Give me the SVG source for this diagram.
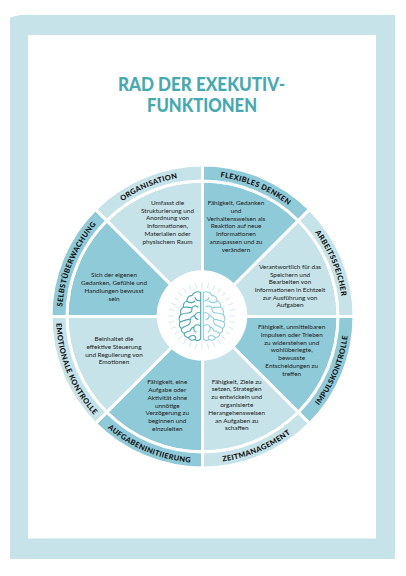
<svg xmlns="http://www.w3.org/2000/svg" width="406" height="576" viewBox="0 0 406 576">
<style>
.d{fill:#8fcad8;stroke:#fff;stroke-width:3}
.l{fill:#c5e3e9;stroke:#fff;stroke-width:3}
.t{font-family:"Lato","Liberation Sans",sans-serif;font-size:6.4px;fill:#1a1a1a;text-anchor:middle}
.a{font-family:"Lato","Liberation Sans",sans-serif;font-size:7.4px;font-weight:900;fill:#111;text-anchor:middle;letter-spacing:.35px}
.h{font-family:"Lato","Liberation Sans",sans-serif;font-size:18.5px;font-weight:900;fill:#45aab0;text-anchor:middle}
.b{fill:none;stroke-width:1.1;stroke-linecap:round;stroke-linejoin:round}
.r{stroke:#c5e3e9;stroke-width:.8;stroke-linecap:round}
</style>
<defs>
<path id="p1" d="M62,316.5A140.5,140.5 0 0 1 103.15,217.15"/>
<path id="p2" d="M103.15,217.15A140.5,140.5 0 0 1 202.5,176"/>
<path id="p3" d="M202.5,176A140.5,140.5 0 0 1 301.85,217.15"/>
<path id="p4" d="M301.85,217.15A140.5,140.5 0 0 1 343,316.5"/>
<path id="p5" d="M56,316.5A146.5,146.5 0 0 0 98.91,420.09"/>
<path id="p6" d="M98.91,420.09A146.5,146.5 0 0 0 202.5,463"/>
<path id="p7" d="M202.5,463A146.5,146.5 0 0 0 306.09,420.09"/>
<path id="p8" d="M306.09,420.09A146.5,146.5 0 0 0 349,316.5"/>
<g id="hemi">
<path d="M1.3,-23.5V23C3,24.5 5.5,24.800 7.500,23.500C10,25 12.500,24 13.500,21.500C16,21.500 18,19.800 17.800,17.300C20,16.500 21,14.500 20.500,12.500C22.800,11 23.300,8 21.800,6C23.300,3.500 23,0.500 21,-1.500C22.300,-4.500 21,-7.800 18.500,-8.800C19.300,-11.800 17.500,-14.500 15,-14.800C15.500,-18 13,-20.800 10,-20.300C9,-23.500 5,-25.300 1.3,-23.500Z"/>
<path d="M1.500,-15C4,-15 6,-16 7,-18.500M7,-15C9,-13 12,-13 15,-14.800M4,-9C7,-11 9,-10 10,-8C12,-9 15,-9 18.500,-8.800M10,-8C9.500,-5 11,-3 14,-3C16,-3 19,-2.500 21,-1.500M1.500,-3C4,-4 6,-3 7,-1C7.500,1.500 6,3 4,3.500M7,-1C9,0 11,1 12,3.500C14,3 17,4 21.800,6M12,3.500C11,6 12,8.500 15,9.500C16.500,10 18.500,11 20.500,12.500M1.500,10C4,8 7,8.500 8,11C8.500,13 8,15 6,16M8,11C10,11.500 11.500,13 12,15C13.500,15 15.500,16 17.800,17.300M6.500,23.500C5.500,21 7,19.500 9,19.500C11,19.500 12.500,20.500 13.500,21.500"/>
</g>
</defs>
<rect id="frame" x="10" y="15" width="385" height="544" fill="#c5e3e9"/>
<rect x="28" y="35" width="348" height="503.500" fill="#fff"/>
<path d="M9,18.500C12,16.500 15,16 19,15.500L18,14H9Z" fill="#fff"/>
<g id="title">
<text class="h" x="201.500" y="90.500" textLength="167" lengthAdjust="spacingAndGlyphs">RAD DER EXEKUTIV-</text>
<text class="h" x="202" y="111.500" textLength="110" lengthAdjust="spacingAndGlyphs">FUNKTIONEN</text>
</g>
<g id="organisation">
<path class="l" d="M202.500,316.500L106.690,220.690A135.500,135.500 0 0 1 202.500,181Z"/>
<path class="l" d="M95.370,209.370A151.500,151.500 0 0 1 202.500,165V181A135.500,135.500 0 0 0 106.690,220.690Z"/>
<text class="a"><textPath href="#p2" startOffset="50%">ORGANISATION</textPath></text>
<text class="t"><tspan x="167.500" y="205">Umfasst die</tspan><tspan x="167.500" dy="7.700">Strukturierung und</tspan><tspan x="167.500" dy="7.700">Anordnung von</tspan><tspan x="167.500" dy="7.700">Informationen,</tspan><tspan x="167.500" dy="7.700">Materialien oder</tspan><tspan x="167.500" dy="7.700">physischem Raum</tspan></text>
</g>
<g id="selbstueberwachung">
<path class="d" d="M202.500,316.500L67,316.500A135.500,135.500 0 0 1 106.690,220.690Z"/>
<path class="d" d="M51,316.500A151.500,151.500 0 0 1 95.370,209.370L106.690,220.690A135.500,135.500 0 0 0 67,316.500Z"/>
<text class="a"><textPath href="#p1" startOffset="50%">SELBSTÜBERWACHUNG</textPath></text>
<text class="t"><tspan x="114" y="277.300">Sich der eigenen</tspan><tspan x="114" dy="7.800">Gedanken, Gefühle und</tspan><tspan x="114" dy="7.800">Handlungen bewusst</tspan><tspan x="114" dy="7.800">sein</tspan></text>
</g>
<g id="flexibles-denken">
<path class="d" d="M202.500,316.500V181A135.500,135.500 0 0 1 298.310,220.690Z"/>
<path class="d" d="M202.500,165A151.500,151.500 0 0 1 309.630,209.370L298.310,220.690A135.500,135.500 0 0 0 202.500,181Z"/>
<text class="a"><textPath href="#p3" startOffset="50%">FLEXIBLES DENKEN</textPath></text>
<text class="t"><tspan x="236" y="205">Fähigkeit, Gedanken</tspan><tspan x="236" dy="7.780">und</tspan><tspan x="236" dy="7.780">Verhaltensweisen als</tspan><tspan x="236" dy="7.780">Reaktion auf neue</tspan><tspan x="236" dy="7.780">Informationen</tspan><tspan x="236" dy="7.780">anzupassen und zu</tspan><tspan x="236" dy="7.780">verändern</tspan></text>
</g>
<g id="arbeitsspeicher">
<path class="l" d="M202.500,316.500L298.310,220.690A135.500,135.500 0 0 1 338,316.500Z"/>
<path class="l" d="M309.630,209.370A151.500,151.500 0 0 1 354,316.500H338A135.500,135.500 0 0 0 298.310,220.690Z"/>
<text class="a"><textPath href="#p4" startOffset="50%">ARBEITSSPEICHER</textPath></text>
<text class="t"><tspan x="290" y="269">Verantwortlich für das</tspan><tspan x="290" dy="7.670">Speichern und</tspan><tspan x="290" dy="7.670">Bearbeiten von</tspan><tspan x="290" dy="7.670">Informationen in Echtzeit</tspan><tspan x="290" dy="7.670">zur Ausführung von</tspan><tspan x="290" dy="7.670">Aufgaben</tspan></text>
</g>
<g id="impulskontrolle">
<path class="d" d="M202.500,316.500H338A135.500,135.500 0 0 1 298.310,412.310Z"/>
<path class="d" d="M354,316.500A151.500,151.500 0 0 1 309.630,423.630L298.310,412.310A135.500,135.500 0 0 0 338,316.500Z"/>
<text class="a"><textPath href="#p8" startOffset="50%">IMPULSKONTROLLE</textPath></text>
<text class="t"><tspan x="291.700" y="329">Fähigkeit, unmittelbaren</tspan><tspan x="291.700" dy="7.780">Impulsen oder Trieben</tspan><tspan x="291.700" dy="7.780">zu widerstehen und</tspan><tspan x="291.700" dy="7.780">wohlüberlegte,</tspan><tspan x="291.700" dy="7.780">bewusste</tspan><tspan x="291.700" dy="7.780">Entscheidungen zu</tspan><tspan x="291.700" dy="7.780">treffen</tspan></text>
</g>
<g id="zeitmanagement">
<path class="l" d="M202.500,316.500L298.310,412.310A135.500,135.500 0 0 1 202.500,452Z"/>
<path class="l" d="M309.630,423.630A151.500,151.500 0 0 1 202.500,468V452A135.500,135.500 0 0 0 298.310,412.310Z"/>
<text class="a"><textPath href="#p7" startOffset="50%">ZEITMANAGEMENT</textPath></text>
<text class="t"><tspan x="236.700" y="383.700">Fähigkeit, Ziele zu</tspan><tspan x="236.700" dy="7.780">setzen, Strategien</tspan><tspan x="236.700" dy="7.780">zu entwickeln und</tspan><tspan x="236.700" dy="7.780">organisierte</tspan><tspan x="236.700" dy="7.780">Herangehensweisen</tspan><tspan x="236.700" dy="7.780">an Aufgaben zu</tspan><tspan x="236.700" dy="7.780">schaffen</tspan></text>
</g>
<g id="aufgabeninitiierung">
<path class="d" d="M202.500,316.500V452A135.500,135.500 0 0 1 106.690,412.310Z"/>
<path class="d" d="M202.500,468A151.500,151.500 0 0 1 95.370,423.630L106.690,412.310A135.500,135.500 0 0 0 202.500,452Z"/>
<text class="a"><textPath href="#p6" startOffset="50%">AUFGABENINITIIERUNG</textPath></text>
<text class="t"><tspan x="167.300" y="384.300">Fähigkeit, eine</tspan><tspan x="167.300" dy="7.780">Aufgabe oder</tspan><tspan x="167.300" dy="7.780">Aktivität ohne</tspan><tspan x="167.300" dy="7.780">unnötige</tspan><tspan x="167.300" dy="7.780">Verzögerung zu</tspan><tspan x="167.300" dy="7.780">beginnen und</tspan><tspan x="167.300" dy="7.780">einzuleiten</tspan></text>
</g>
<g id="emotionale-kontrolle">
<path class="l" d="M202.500,316.500L106.690,412.310A135.500,135.500 0 0 1 67,316.500Z"/>
<path class="l" d="M95.370,423.630A151.500,151.500 0 0 1 51,316.500H67A135.500,135.500 0 0 0 106.690,412.310Z"/>
<text class="a"><textPath href="#p5" startOffset="50%">EMOTIONALE KONTROLLE</textPath></text>
<text class="t"><tspan x="114" y="340.700">Beinhaltet die</tspan><tspan x="114" dy="7.900">effektive Steuerung</tspan><tspan x="114" dy="7.900">und Regulierung von</tspan><tspan x="114" dy="7.900">Emotionen</tspan></text>
</g>
<g id="center">
<circle cx="202" cy="315.500" r="45.300" fill="#fff"/>
<g transform="translate(202,316)">
<g class="r">
<path d="M0,-33V-28.500M6.500,-32.500L5.500,-28M12.600,-30.500L10.900,-26.300M18.300,-27.500L15.800,-23.700M23.300,-23.300L20,-20M27.500,-18.300L23.700,-15.800M30.500,-12.600L26.300,-10.900M32.500,-6.500L28,-5.500M33,0H28.500M32.500,6.500L28,5.500M30.500,12.600L26.300,10.900M27.500,18.300L23.700,15.800M23.300,23.300L20,20M18.300,27.500L15.800,23.700M12.600,30.500L10.900,26.300M6.500,32.500L5.500,28M0,33V28.500"/>
<path d="M-6.500,-32.500L-5.500,-28M-12.600,-30.500L-10.900,-26.300M-18.300,-27.500L-15.800,-23.700M-23.300,-23.300L-20,-20M-27.500,-18.300L-23.700,-15.800M-30.500,-12.600L-26.300,-10.900M-32.500,-6.500L-28,-5.500M-33,0H-28.500M-32.500,6.500L-28,5.500M-30.500,12.600L-26.300,10.900M-27.500,18.300L-23.700,15.800M-23.300,23.300L-20,20M-18.300,27.500L-15.800,23.700M-12.600,30.500L-10.900,26.300M-6.500,32.500L-5.500,28"/>
</g>
<use href="#hemi" class="b" stroke="#8dd0dc"/>
<use href="#hemi" class="b" stroke="#45aab0" transform="scale(-1,1)"/>
</g>
</g>
</svg>
